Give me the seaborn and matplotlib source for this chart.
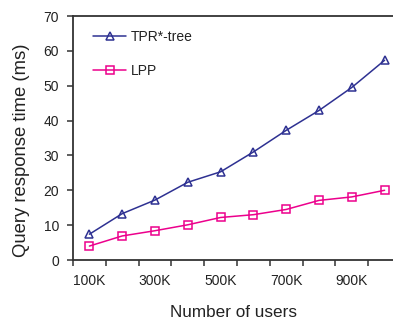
import matplotlib
matplotlib.use("Agg")
import matplotlib.pyplot as plt
import seaborn as sns
import pandas as pd
from matplotlib.ticker import FixedLocator

users_k = [100, 200, 300, 400, 500, 600, 700, 800, 900, 1000]
tpr_tree = [7.4, 13.3, 17.2, 22.3, 25.3, 31.0, 37.2, 42.9, 49.5, 57.3]
lpp = [4.0, 6.9, 8.4, 10.1, 12.2, 13.0, 14.5, 17.1, 18.1, 20.0]
xtick_vals = [100, 300, 500, 700, 900]
xtick_labels = ["100K", "300K", "500K", "700K", "900K"]
series_names = ["TPR*-tree", "LPP"]

df = pd.DataFrame({
    "users": users_k * 2,
    "time": tpr_tree + lpp,
    "method": [series_names[0]] * len(users_k) + [series_names[1]] * len(users_k),
})

sns.set_theme(style="ticks")
plt.rcParams["font.family"] = ["Liberation Sans", "DejaVu Sans"]

fig = plt.figure(figsize=(3.93, 3.22), dpi=100)
ax = fig.add_axes([73 / 393, 1 - 260 / 322, 320 / 393, 244 / 322])

palette = {"TPR*-tree": "#2e3192", "LPP": "#ec008c"}
markers = {"TPR*-tree": "^", "LPP": "s"}
sns.lineplot(data=df, x="users", y="time", hue="method", style="method",
             palette=palette, markers=markers, dashes=False, ax=ax,
             linewidth=1.1, markersize=6, markerfacecolor="none",
             markeredgewidth=1.1)
for line in ax.lines:
    line.set_markerfacecolor("none")
    line.set_markeredgecolor(line.get_color())

ax.set_xlim(50, 1025.6)
ax.set_ylim(0, 70)
ax.set_yticks(range(0, 71, 10))
ax.set_xticks(xtick_vals)
ax.set_xticklabels(xtick_labels)
ax.xaxis.set_minor_locator(FixedLocator([50 + 100 * i for i in range(10)]))
ax.tick_params(axis="x", which="major", length=0, pad=10, labelsize=10, colors="#222222")
ax.tick_params(axis="x", which="minor", length=4.5, width=1.1, color="#333333", direction="out")
ax.tick_params(axis="y", which="major", length=4, width=1.1, labelsize=10, colors="#222222",
               color="#333333", direction="out", pad=6)
for side in ["left", "bottom", "top"]:
    ax.spines[side].set_linewidth(1.3)
    ax.spines[side].set_color("#333333")
ax.spines["right"].set_visible(False)

ax.set_xlabel("Number of users", fontsize=12.3, color="#222222")
ax.xaxis.set_label_coords(0.5, -0.217)
ax.xaxis.label.set_va("center")
ax.set_ylabel("Query response time (ms)", fontsize=13.3, color="#222222")
ax.yaxis.set_label_coords(-0.134, 0.451)

leg = ax.legend(loc="upper left", frameon=False, fontsize=10, handlelength=2.4,
                handletextpad=0.3, labelspacing=1.4, bbox_to_anchor=(0.045, 0.965),
                borderaxespad=0)
for t in leg.get_texts():
    t.set_color("#222222")

fig.savefig("out.png", dpi=100)
